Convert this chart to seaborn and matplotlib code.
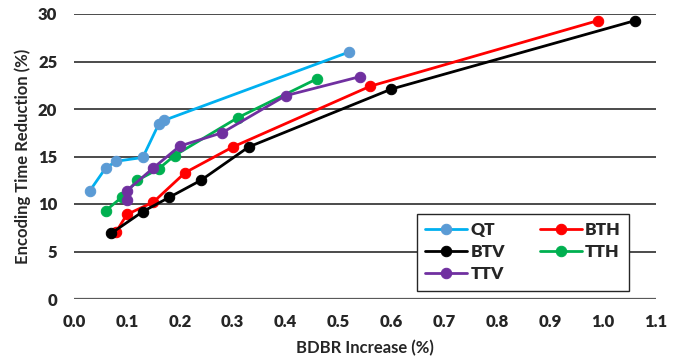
import matplotlib
matplotlib.use("Agg")
import matplotlib.pyplot as plt
import seaborn as sns
import pandas as pd

series = ["QT", "BTH", "BTV", "TTH", "TTV"]
qt_x = [0.03, 0.06, 0.08, 0.13, 0.16, 0.17, 0.52]
qt_y = [11.4, 13.8, 14.5, 14.9, 18.4, 18.8, 26.0]
bth_x = [0.08, 0.10, 0.15, 0.21, 0.30, 0.56, 0.99]
bth_y = [7.1, 8.9, 10.2, 13.3, 16.0, 22.4, 29.3]
btv_x = [0.07, 0.13, 0.18, 0.24, 0.33, 0.60, 1.06]
btv_y = [6.9, 9.2, 10.7, 12.5, 16.0, 22.1, 29.3]
tth_x = [0.06, 0.09, 0.12, 0.16, 0.19, 0.31, 0.46]
tth_y = [9.3, 10.7, 12.5, 13.7, 15.1, 19.1, 23.2]
ttv_x = [0.10, 0.10, 0.15, 0.20, 0.28, 0.40, 0.54]
ttv_y = [10.4, 11.4, 13.8, 16.1, 17.5, 21.4, 23.4]

xs = [qt_x, bth_x, btv_x, tth_x, ttv_x]
ys = [qt_y, bth_y, btv_y, tth_y, ttv_y]
line_colors = ["#00B0F0", "#FF0000", "#000000", "#00B050", "#7030A0"]
marker_colors = ["#5B9BD5", "#FF0000", "#000000", "#00B050", "#7030A0"]

sns.set_style("white")
plt.rcParams["font.family"] = ["Lato", "DejaVu Sans"]

fig = plt.figure(figsize=(6.82, 3.64), dpi=100)
ax = fig.add_axes([74/682, 1-299/364, (656-74)/682, (299-14)/364])

for name, x, y, lc, mc in zip(series, xs, ys, line_colors, marker_colors):
    df = pd.DataFrame({"x": x, "y": y})
    sns.lineplot(data=df, x="x", y="y", sort=False, estimator=None, ax=ax,
                 color=lc, linewidth=2.0, marker="o", markersize=7.5,
                 markerfacecolor=mc, markeredgecolor=mc, label=name, zorder=3)

ax.set_xlim(0, 1.1)
ax.set_ylim(0, 30)
ax.set_xticks([i/10 for i in range(12)])
ax.set_xticklabels([f"{i/10:.1f}" for i in range(12)])
ax.set_yticks(range(0, 31, 5))
for v in range(5, 31, 5):
    ax.axhline(v, color="#1a1a1a", linewidth=1.1, zorder=1)
ax.axhline(0, color="#595959", linewidth=1.6, zorder=1)
for s in ax.spines.values():
    s.set_visible(False)
ax.tick_params(axis="both", length=0, labelsize=12)
ax.tick_params(axis="y", pad=12)
ax.tick_params(axis="x", pad=11)
for lab in ax.get_xticklabels() + ax.get_yticklabels():
    lab.set_fontweight("heavy")
ax.set_xlabel("BDBR Increase (%)", fontsize=12, fontweight="bold", labelpad=7)
ax.set_ylabel("Encoding Time Reduction (%)", fontsize=12, fontweight="bold", labelpad=5)

handles, labels = ax.get_legend_handles_labels()
order = [0, 2, 4, 1, 3]
leg = ax.legend([handles[i] for i in order], [labels[i] for i in order],
                ncol=2, loc="lower left",
                bbox_to_anchor=(0.589, 0.028), frameon=True, fancybox=False,
                edgecolor="#262626", facecolor="white", framealpha=1,
                prop={"weight": "heavy", "size": 12.5}, handlelength=2.4,
                columnspacing=2.0, handletextpad=0.2, borderpad=0.5,
                labelspacing=0.35, borderaxespad=0)
leg.get_frame().set_linewidth(1.0)
leg.set_zorder(5)

fig.savefig("out.png", dpi=100)
